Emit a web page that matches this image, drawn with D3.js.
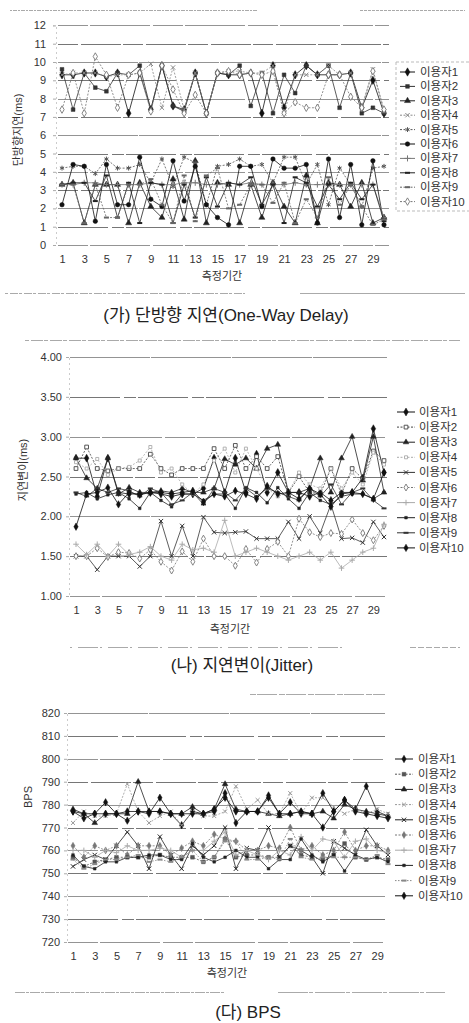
<!DOCTYPE html>
<html><head><meta charset="utf-8">
<script src="https://cdn.jsdelivr.net/npm/d3@7"></script>
<style>
html,body{margin:0;padding:0;background:#fff;}
text{font-family:"Liberation Sans","Noto Sans CJK KR",sans-serif;}
</style></head>
<body><svg id="c" width="469" height="1023"></svg>
<script>
// ---------- data ----------
const periods = d3.range(1, 31);
const periodTickLabels = [1,3,5,7,9,11,13,15,17,19,21,23,25,27,29];
const users = ["이용자1","이용자2","이용자3","이용자4","이용자5","이용자6","이용자7","이용자8","이용자9","이용자10"];

const delayTicks = [0,1,2,3,4,5,6,7,8,9,10,11,12];
const delayU1 = [9.3,9.3,9.4,9.4,9.2,9.4,7.2,9.4,7.4,9.8,7.6,7.4,9.4,7.2,9.4,9.3,9.3,9.4,7.2,9.8,7.5,9.3,9.8,9.3,9.3,9.3,9.4,7.5,9.0,7.2];
const delayU2 = [9.6,7.4,9.4,8.6,8.4,9.4,9.3,9.8,7.4,9.8,7.6,7.3,9.4,7.2,9.4,9.3,9.8,7.6,9.4,7.2,9.3,8.3,9.8,9.3,9.8,7.5,9.4,7.2,7.5,7.2];
const delayU3 = [3.3,3.4,1.2,3.3,3.3,3.3,1.2,3.4,2.1,1.5,3.6,1.4,4.6,1.2,3.4,3.3,1.2,3.3,1.5,3.4,2.1,1.2,3.8,1.2,3.4,3.3,2.1,3.4,1.2,1.5];
const delayU4 = [9.3,9.4,9.4,9.4,9.2,9.3,9.3,9.4,9.9,7.5,9.7,7.4,9.4,7.2,9.4,9.5,9.5,9.4,9.4,9.8,7.2,9.3,9.3,9.3,9.8,9.3,9.4,7.5,9.6,7.3];
const delayU5 = [4.2,4.3,4.3,3.9,4.7,4.2,4.2,4.4,3.4,4.7,3.2,4.8,4.5,2.2,4.3,4.4,4.7,4.3,4.4,3.4,4.8,4.8,3.3,4.4,2.2,4.2,3.3,2.1,4.2,4.3];
const delayU6 = [2.2,4.4,4.3,1.3,4.4,2.2,2.2,4.8,2.5,2.1,4.6,2.4,4.3,2.2,1.5,1.1,4.3,4.3,2.1,4.7,4.2,4.2,4.4,1.2,4.7,1.5,4.4,1.1,4.6,1.1];
const delayU7 = [3.3,3.3,3.4,3.4,3.3,3.3,3.3,3.3,3.4,3.3,3.3,3.4,3.4,3.3,3.3,3.4,3.3,3.4,3.3,3.3,3.3,3.4,3.3,3.3,3.3,3.3,3.3,3.3,3.3,1.5];
const delayU8 = [3.3,3.4,3.4,2.4,3.8,1.5,3.4,1.2,3.4,3.3,1.2,3.3,1.5,3.7,2.1,3.4,3.3,3.7,2.2,3.3,1.2,3.7,3.4,2.1,3.3,2.5,3.4,2.5,3.3,1.3];
const delayU9 = [3.3,3.3,1.2,3.3,1.5,1.5,3.3,3.3,3.6,2.2,1.2,3.8,1.3,3.8,4.2,2.0,2.2,3.3,3.3,2.3,3.4,1.2,2.5,1.5,3.7,2.2,3.3,2.1,1.1,1.4];
const delayU10 = [7.4,9.4,7.2,10.3,9.3,7.5,9.3,9.4,7.3,9.8,8.5,7.2,8.2,7.2,9.4,9.5,9.3,9.4,9.3,9.5,7.2,7.8,7.5,7.5,9.3,9.3,8.1,7.5,9.5,7.4];

const jitterTicks = [1.0,1.5,2.0,2.5,3.0,3.5,4.0];
const jitterU1 = [2.73,2.73,2.25,2.73,2.30,2.28,2.28,2.30,2.28,2.25,2.28,2.28,2.35,2.73,2.30,2.73,2.30,2.78,2.30,2.55,2.30,2.30,2.25,2.30,2.20,2.30,2.30,2.48,3.10,2.55];
const jitterU2 = [2.60,2.87,2.60,2.57,2.60,2.60,2.60,2.78,2.60,2.52,2.60,2.60,2.60,2.85,2.60,2.89,2.60,2.75,2.60,2.75,2.30,2.50,2.30,2.28,2.60,2.28,2.60,2.47,2.82,2.70];
const jitterU3 = [2.73,2.48,2.35,2.73,2.28,2.36,2.30,2.30,2.32,2.30,2.35,2.30,2.30,2.35,2.72,2.65,2.73,2.60,2.85,2.90,2.30,2.30,2.35,2.73,2.30,2.73,3.00,2.45,3.00,2.30];
const jitterU4 = [2.68,2.60,2.72,2.52,2.60,2.62,2.70,2.87,2.55,2.60,2.40,2.28,2.40,2.70,2.85,2.55,2.85,2.60,2.35,2.25,2.30,2.55,2.40,2.35,2.60,2.35,2.55,2.40,2.80,2.65];
const jitterU5 = [1.50,1.50,1.33,1.50,1.50,1.50,1.37,1.50,1.94,1.50,1.88,1.50,1.99,1.80,1.79,1.80,1.81,1.72,1.72,1.72,1.93,1.72,2.00,1.79,2.15,1.72,1.73,1.67,1.93,1.74];
const jitterU6 = [1.50,1.50,1.60,1.49,1.55,1.54,1.47,1.58,1.43,1.32,1.56,1.43,1.72,1.50,1.50,1.38,1.59,1.42,1.59,1.68,1.50,1.97,1.80,1.74,1.79,1.78,1.96,1.79,1.70,1.88];
const jitterU7 = [1.65,1.52,1.65,1.50,1.65,1.52,1.55,1.62,1.50,1.45,1.65,1.58,1.60,1.55,1.95,1.50,1.55,1.60,1.55,1.50,1.45,1.50,1.55,1.45,1.55,1.35,1.45,1.55,1.60,1.90];
const jitterU8 = [2.28,2.30,2.22,2.27,2.30,2.22,2.10,2.30,2.20,2.12,2.28,2.28,2.20,2.28,2.28,2.10,2.36,2.30,2.17,2.36,2.22,2.10,2.30,2.20,2.15,2.25,2.28,2.28,2.22,2.30];
const jitterU9 = [2.30,2.25,2.35,2.30,2.35,2.32,2.25,2.35,2.30,2.15,2.20,2.30,2.15,2.35,2.30,2.20,2.35,2.25,2.35,2.30,2.25,2.20,2.35,2.25,2.40,2.15,2.30,2.35,2.20,2.10];
const jitterU10 = [1.87,2.28,2.30,2.36,2.15,2.30,2.27,2.30,2.30,2.28,2.30,2.32,2.18,2.28,2.25,2.32,2.28,2.22,2.38,2.28,2.30,2.22,2.35,2.28,2.12,2.28,2.30,2.28,2.22,2.55];

const bpsTicks = [720,730,740,750,760,770,780,790,800,810,820];
const bpsU1 = [777,774,776,781,776,773,777,776,783,776,771,777,776,777,785,772,777,777,784,776,781,776,776,770,777,782,778,788,777,775];
const bpsU2 = [757,753,755,756,757,757,757,757,758,757,757,757,755,757,765,757,758,758,757,757,762,758,757,756,758,763,757,756,757,756];
const bpsU3 = [778,776,772,776,776,776,790,777,777,776,776,779,776,778,789,778,777,777,776,775,776,777,776,777,774,780,778,777,776,775];
const bpsU4 = [772,777,775,775,776,789,777,772,775,777,771,777,775,775,777,788,778,782,776,776,785,776,783,783,779,776,778,776,778,776];
const bpsU5 = [753,756,758,756,762,768,762,752,766,758,752,762,758,762,770,752,761,760,770,757,762,760,757,750,764,761,758,769,762,758];
const bpsU6 = [762,757,762,760,762,758,762,762,762,758,761,764,762,767,765,764,760,760,762,761,770,760,762,758,760,768,760,762,762,760];
const bpsU7 = [760,760,757,760,759,762,760,760,761,760,757,760,760,764,768,758,760,758,756,760,758,766,760,765,764,757,764,765,760,759];
const bpsU8 = [758,753,752,755,755,757,757,758,758,756,756,763,757,755,757,760,757,757,752,756,756,765,758,755,758,751,758,756,757,755];
const bpsU9 = [756,752,754,756,756,757,758,755,756,755,757,760,755,757,764,764,756,756,757,756,765,757,756,757,757,757,757,756,758,754];
const bpsU10 = [777,776,776,776,776,777,777,777,777,776,776,776,776,778,783,777,777,777,783,776,776,777,776,785,777,782,777,776,775,774];

// ---------- styles ----------
const S = {
  diamond: d3.symbolDiamond, square: d3.symbolSquare, triangle: d3.symbolTriangle,
  x: d3.symbolX, asterisk: d3.symbolAsterisk, circle: d3.symbolCircle,
  plus: d3.symbolPlus, dash: "dash"
};
// [symbol, filled, line color, line dash, marker size]
const delayStyles = [
  ["diamond",true,"#111",null,20],["square",true,"#333",null,14],["triangle",true,"#222",null,16],
  ["x",false,"#888","2,1.5",14],["asterisk",false,"#555","2,1.5",16],["circle",true,"#111",null,16],
  ["plus",false,"#777",null,14],["dash",true,"#222",null,10],["dash",true,"#666","2,1.5",10],
  ["diamond",false,"#777","2,1.5",16]];
const jitterStyles = [
  ["diamond",true,"#111",null,18],["square",false,"#444","2,1.5",14],["triangle",true,"#222",null,14],
  ["square",false,"#aaa","2,1.5",9],["x",false,"#333",null,14],["diamond",false,"#777","2,1.5",14],
  ["plus",false,"#aaa",null,12],["square",true,"#222",null,7],["dash",true,"#333",null,10],
  ["diamond",true,"#111",null,16]];
const bpsStyles = [
  ["diamond",true,"#111",null,16],["square",true,"#555","2,1.5",14],["triangle",true,"#222",null,14],
  ["x",false,"#999","2,1.5",12],["x",false,"#222",null,14],["diamond",true,"#777","2,1.5",14],
  ["plus",false,"#aaa",null,12],["square",true,"#222",null,7],["dash",true,"#888","1.5,1.5",10],
  ["diamond",true,"#111",null,16]];

const svg = d3.select("#c");
const FONT = "#333";

function marker(sel, st) {
  const [sym, filled, color, , size] = st;
  if (sym === "dash") {
    sel.append("rect").attr("x", -2.5).attr("y", -1).attr("width", 5).attr("height", 2).attr("fill", color);
  } else {
    const p = sel.append("path").attr("d", d3.symbol().type(S[sym]).size(size)());
    if (filled && sym !== "x" && sym !== "plus" && sym !== "asterisk") p.attr("fill", color).attr("stroke", color).attr("stroke-width", 0.5);
    else if (sym === "x" || sym === "plus" || sym === "asterisk") p.attr("fill", "none").attr("stroke", color).attr("stroke-width", 1);
    else p.attr("fill", "#fff").attr("stroke", color).attr("stroke-width", 0.9);
  }
}

function drawChart(cfg) {
  const g = svg.append("g");
  const x = d3.scalePoint().domain(periods).range([cfg.x0, cfg.x1]);
  const y = d3.scaleLinear().domain(cfg.domain).range([cfg.yb, cfg.yt]);

  // gridlines
  g.append("g").selectAll("line").data(cfg.ticks).join("line")
    .attr("x1", cfg.gx0).attr("x2", cfg.gx1)
    .attr("y1", d => Math.round(y(d)) + 0.5).attr("y2", d => Math.round(y(d)) + 0.5)
    .attr("stroke", (d, i) => i % 2 ? "#666" : "#888").attr("stroke-width", 0.9)
    .attr("stroke-dasharray", (d, i) => ["30,2,60,3", "50,4,12,2", "80,1", "20,3,40,2"][i % 4]);

  // y axis
  const ya = g.append("g").attr("transform", `translate(${cfg.ax},0)`)
    .call(d3.axisLeft(y).tickValues(cfg.ticks).tickFormat(cfg.fmt).tickSize(3).tickPadding(cfg.tp));
  ya.select(".domain").attr("stroke", "#ccc").attr("stroke-dasharray", "2,3");
  ya.selectAll(".tick line").attr("stroke", "#aaa");
  ya.selectAll("text").attr("font-size", 11).attr("fill", FONT);

  // x axis
  const xa = g.append("g").attr("transform", `translate(0,${cfg.yb + 4})`)
    .call(d3.axisBottom(x).tickValues(periodTickLabels).tickSize(0).tickPadding(6));
  xa.select(".domain").remove();
  xa.selectAll("text").attr("font-size", 11).attr("fill", FONT);

  g.append("text").attr("x", cfg.xtX).attr("y", cfg.xtY).attr("text-anchor", "middle")
    .attr("font-size", 11).attr("fill", FONT).text("측정기간");
  g.append("text").attr("transform", `translate(${cfg.ytX},${cfg.ytY}) rotate(-90)`)
    .attr("text-anchor", "middle").attr("font-size", 11).attr("fill", FONT).text(cfg.ytitle);

  // series
  const line = d3.line().x((d, i) => x(periods[i])).y(d => y(d));
  cfg.series.forEach((vals, si) => {
    const st = cfg.styles[si];
    g.append("path").attr("d", line(vals)).attr("fill", "none")
      .attr("stroke", st[2]).attr("stroke-width", 0.8)
      .attr("stroke-dasharray", st[3]);
    g.append("g").selectAll("g").data(vals).join("g")
      .attr("transform", (d, i) => `translate(${x(periods[i])},${y(d)})`)
      .each(function () { marker(d3.select(this), st); });
  });

  // legend
  if (cfg.legBox) {
    g.append("rect").attr("x", cfg.legBox[0]).attr("y", cfg.legBox[1]).attr("width", cfg.legBox[2]).attr("height", cfg.legBox[3])
      .attr("fill", "none").attr("stroke", "#bbb").attr("stroke-dasharray", "3,2");
  }
  users.forEach((u, i) => {
    const ly = cfg.ly0 + i * cfg.lstep;
    const st = cfg.styles[i];
    g.append("line").attr("x1", cfg.lx0).attr("x2", cfg.lx1).attr("y1", ly).attr("y2", ly)
      .attr("stroke", st[2]).attr("stroke-width", 1).attr("stroke-dasharray", st[3]);
    marker(g.append("g").attr("transform", `translate(${(cfg.lx0 + cfg.lx1) / 2},${ly})`), st);
    g.append("text").attr("x", cfg.ltx).attr("y", ly).attr("dy", "0.35em")
      .attr("font-size", 11.5).attr("fill", FONT).text(u);
  });

  g.append("text").attr("x", cfg.capX).attr("y", cfg.capY).attr("text-anchor", "middle")
    .attr("font-size", 17).attr("fill", "#222").text(cfg.caption);
}

// scan-like separator lines
const scanLines = [
  [10, 258, 10, "2,1,4,1"], [360, 465, 10, "3,1"],
  [5, 245, 293, "3,2,8,1"], [300, 465, 293, null],
  [25, 460, 340, "4,2,12,1"],
  [70, 345, 647, "2,6,20,2"], [410, 460, 647, "6,2"],
  [250, 385, 694, "6,1,20,2"],
  [15, 225, 992, "10,1,3,1"], [278, 445, 992, "30,1,4,2"]
];
svg.append("g").selectAll("line").data(scanLines).join("line")
  .attr("x1", d => d[0]).attr("x2", d => d[1]).attr("y1", d => d[2] + 0.5).attr("y2", d => d[2] + 0.5)
  .attr("stroke", "#aaa").attr("stroke-width", 1).attr("stroke-dasharray", d => d[3]);

drawChart({
  series: [delayU1,delayU2,delayU3,delayU4,delayU5,delayU6,delayU7,delayU8,delayU9,delayU10],
  styles: delayStyles, ticks: delayTicks, fmt: d3.format("d"),
  domain: [0, 12], yb: 245, yt: 25.4, x0: 62, x1: 384, gx0: 58, gx1: 389,
  ax: 56, tp: 7, xtX: 222, xtY: 280, ytX: 22, ytY: 130, ytitle: "단방향지연(ms)",
  ly0: 72, lstep: 14.4, lx0: 400, lx1: 415, ltx: 420, legBox: [396, 62, 80, 149],
  caption: "(가) 단방향 지연(One-Way Delay)", capX: 226, capY: 321
});
drawChart({
  series: [jitterU1,jitterU2,jitterU3,jitterU4,jitterU5,jitterU6,jitterU7,jitterU8,jitterU9,jitterU10],
  styles: jitterStyles, ticks: jitterTicks, fmt: d3.format(".2f"),
  domain: [1, 4], yb: 596, yt: 357, x0: 76, x1: 384, gx0: 70, gx1: 387,
  ax: 69, tp: 4, xtX: 230, xtY: 633, ytX: 27, ytY: 470, ytitle: "지연변이(ms)",
  ly0: 412, lstep: 15.1, lx0: 397, lx1: 415, ltx: 419, legBox: null,
  caption: "(나) 지연변이(Jitter)", capX: 242, capY: 671
});
drawChart({
  series: [bpsU1,bpsU2,bpsU3,bpsU4,bpsU5,bpsU6,bpsU7,bpsU8,bpsU9,bpsU10],
  styles: bpsStyles, ticks: bpsTicks, fmt: d3.format("d"),
  domain: [720, 820], yb: 942, yt: 713, x0: 73, x1: 388, gx0: 68, gx1: 385,
  ax: 67, tp: 4, xtX: 227, xtY: 977, ytX: 32, ytY: 797, ytitle: "BPS",
  ly0: 759, lstep: 15.2, lx0: 395, lx1: 413, ltx: 418, legBox: null,
  caption: "(다) BPS", capX: 248, capY: 1018
});
</script></body></html>
